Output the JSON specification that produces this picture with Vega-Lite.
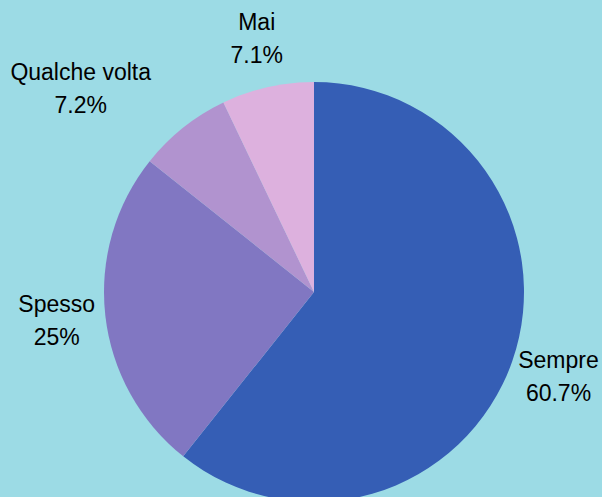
{
  "$schema": "https://vega.github.io/schema/vega-lite/v6.json",
  "width": 576,
  "height": 416,
  "autosize": {"type": "none"},
  "padding": {"left": 26, "top": 84, "right": 0, "bottom": 0},
  "background": "#9CDBE5",
  "view": {"stroke": null},
  "data": {
    "values": [
      {"cat": "Sempre", "value": 60.7},
      {"cat": "Spesso", "value": 25},
      {"cat": "Qualche volta", "value": 7.2},
      {"cat": "Mai", "value": 7.1}
    ]
  },
  "transform": [
    {"calculate": "datum.cat + '\\n' + datum.value + '%'", "as": "label"}
  ],
  "encoding": {
    "theta": {"field": "value", "type": "quantitative", "stack": true},
    "order": {"field": "value", "type": "quantitative", "sort": "descending"}
  },
  "layer": [
    {
      "mark": {"type": "arc", "radius": 210, "stroke": null},
      "encoding": {
        "color": {
          "field": "cat",
          "type": "nominal",
          "scale": {
            "domain": ["Sempre", "Spesso", "Qualche volta", "Mai"],
            "range": ["#355EB5", "#8177C2", "#B193CF", "#DDB1DE"]
          },
          "legend": null
        }
      }
    },
    {
      "mark": {
        "type": "text",
        "radius": 259,
        "dy": -16,
        "font": "Liberation Sans",
        "fontSize": 23,
        "lineHeight": 33,
        "lineBreak": "\n",
        "align": "center",
        "baseline": "middle",
        "color": "#000000"
      },
      "encoding": {
        "text": {
          "condition": {"test": "datum.cat !== 'Qualche volta'", "field": "label"},
          "value": ""
        }
      }
    },
    {
      "mark": {
        "type": "text",
        "radius": 259,
        "dx": -72,
        "dy": -16,
        "font": "Liberation Sans",
        "fontSize": 23,
        "lineHeight": 33,
        "lineBreak": "\n",
        "align": "center",
        "baseline": "middle",
        "color": "#000000"
      },
      "encoding": {
        "text": {
          "condition": {"test": "datum.cat === 'Qualche volta'", "field": "label"},
          "value": ""
        }
      }
    }
  ]
}
